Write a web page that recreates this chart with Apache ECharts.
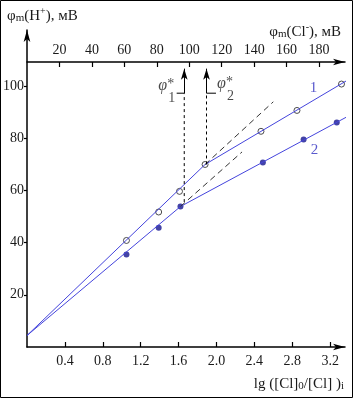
<!DOCTYPE html>
<html>
<head>
<meta charset="utf-8">
<script src="https://cdn.jsdelivr.net/npm/echarts@6/dist/echarts.min.js"></script>
<style>
  html, body { margin: 0; padding: 0; background: #fff; }
  #chart { width: 353px; height: 398px; }
</style>
</head>
<body>
<div id="chart"></div>
<script>
// values
let lgTicks = [0.4, 0.8, 1.2, 1.6, 2.0, 2.4, 2.8, 3.2]
let clTicks = [20, 40, 60, 80, 100, 120, 140, 160, 180]
let hTicks = [20, 40, 60, 80, 100]

// curve 1 (open circles), curve 2 (filled)
let open1 = [[1.05, 40.8], [1.39, 51.7], [1.61, 59.6], [1.88, 69.9], [2.47, 82.6], [2.85, 90.6], [3.32, 100.7]]
let filled2 = [[1.05, 35.4], [1.39, 45.7], [1.62, 53.8], [2.49, 70.7], [2.92, 79.5], [3.27, 86.0]]
let line1 = [[0, 4.4], [1.88, 69.9], [3.37, 101.9]]
let line2 = [[0, 4.4], [1.62, 53.8], [3.37, 88.0]]
// dashed extrapolations past the break
let ext1 = [[1.88, 69.9], [2.6, 93.9]]
let ext2 = [[1.62, 53.8], [2.27, 74.7]]
// phi* marks: x, y where the dashed drop starts; leader height, arrow end
let phi1 = [1.66, 55.5]
let phi2 = [1.895, 69.9]
let leaderY = 97.2
let arrowY = 106.6

let serif = 'Liberation Serif'
let blue = '#4444dc'
let ink = '#1a1a1a'

let chart = echarts.init(document.getElementById('chart'))

function axisLineStyle() {
  return {
    show: true,
    symbol: ['none', 'arrow'],
    symbolSize: [5, 12],
    lineStyle: { color: '#000', width: 1.5 }
  }
}

let nameRich = {
  a: { fontFamily: serif, fontWeight: 'normal', fontSize: 15, color: ink, lineHeight: 18, verticalAlign: 'bottom' },
  s: { fontFamily: serif, fontWeight: 'normal', fontSize: 11, color: ink, lineHeight: 18, padding: [6, 0, 0, 0], verticalAlign: 'bottom' },
  p: { fontFamily: serif, fontWeight: 'normal', fontSize: 10, color: ink, lineHeight: 18, padding: [0, 0, 8, 0], verticalAlign: 'bottom' }
}

let option = {
  animation: false,
  backgroundColor: '#fff',
  title: [
    { left: 2, top: 1, text: '{a|φ}{s|m}{a|(H}{p|+}{a|), мВ}', textStyle: { fontWeight: 'normal', rich: nameRich } },
    { right: 7, top: 17, text: '{a|φ}{s|m}{a|(Cl}{p|-}{a|), мВ}', textStyle: { fontWeight: 'normal', rich: nameRich } },
    { right: 4, bottom: 2, text: '{a|lg ([Cl]}{s|0}{a|/[Cl] )}{s|i}', textStyle: { fontWeight: 'normal', rich: nameRich } }
  ],
  grid: { left: 25, right: 8, top: 30, bottom: 51 },
  xAxis: [
    {
      type: 'value', position: 'bottom', min: 0, max: 3.357,
      axisLine: axisLineStyle(),
      axisTick: { inside: true, length: 5, customValues: lgTicks, lineStyle: { color: '#000', width: 1.2 } },
      axisLabel: { customValues: lgTicks, formatter: v => v.toFixed(1), fontFamily: serif, fontSize: 14, color: ink, margin: 7 },
      splitLine: { show: false }
    },
    {
      type: 'value', position: 'top', offset: -32, min: 0, max: 196,
      axisLine: axisLineStyle(),
      axisTick: { inside: true, length: 5, customValues: clTicks, lineStyle: { color: '#000', width: 1.2 } },
      axisLabel: { customValues: clTicks, fontFamily: serif, fontSize: 14, color: ink, margin: 5 },
      splitLine: { show: false }
    }
  ],
  yAxis: {
    type: 'value', min: 0, max: 121.4,
    axisLine: axisLineStyle(),
    axisTick: { length: 3, customValues: hTicks, lineStyle: { color: '#000', width: 1.2 } },
    axisLabel: { customValues: hTicks, fontFamily: serif, fontSize: 14, color: ink, margin: 3 },
    splitLine: { show: false }
  },
  graphic: [
    { type: 'rect', shape: { x: 0.5, y: 0.5, width: 352, height: 397 }, style: { fill: 'none', stroke: '#000', lineWidth: 1 } }
  ],
  series: [
    { type: 'line', data: line1, showSymbol: false, lineStyle: { color: blue, width: 1 } },
    { type: 'line', data: line2, showSymbol: false, lineStyle: { color: blue, width: 1 } },
    { type: 'line', data: ext1, showSymbol: false, lineStyle: { color: '#333', width: 1, type: [6, 4] } },
    { type: 'line', data: ext2, showSymbol: false, lineStyle: { color: '#333', width: 1, type: [6, 4] } },
    { type: 'line', data: [phi1, [phi1[0], leaderY]], showSymbol: false, lineStyle: { color: '#000', width: 1, type: [3, 3] } },
    { type: 'line', data: [phi2, [phi2[0], leaderY]], showSymbol: false, lineStyle: { color: '#000', width: 1, type: [3, 3] } },
    { type: 'line', data: [[phi1[0] - 0.08, leaderY], [phi1[0], leaderY]], showSymbol: false, lineStyle: { color: '#000', width: 1 } },
    {
      type: 'line', data: [[phi2[0] + 0.1, leaderY], [phi2[0], leaderY]], showSymbol: false, lineStyle: { color: '#000', width: 1 },
      markLine: {
        silent: true,
        symbol: ['none', 'arrow'],
        symbolSize: [5, 11],
        label: { show: false },
        lineStyle: { color: '#000', width: 1, type: 'solid' },
        data: [
          [{ coord: [phi1[0], leaderY] }, { coord: [phi1[0], arrowY] }],
          [{ coord: [phi2[0], leaderY] }, { coord: [phi2[0], arrowY] }]
        ]
      }
    },
    {
      type: 'scatter', data: open1, symbol: 'circle', symbolSize: 6,
      itemStyle: { color: '#fff', borderColor: '#222', borderWidth: 1 }
    },
    {
      type: 'scatter', data: filled2, symbol: 'circle', symbolSize: 6,
      itemStyle: { color: '#14148f' }
    },
    {
      type: 'scatter', symbolSize: 0,
      data: [[3.025, 99.0, '1'], [3.035, 75.6, '2']],
      label: { show: true, position: 'inside', formatter: p => p.data[2], fontFamily: serif, fontSize: 15, color: '#3030c0' }
    },
    {
      type: 'scatter', symbolSize: 0,
      data: [[1.47, 97.6, '1'], [2.09, 98.4, '2']],
      label: {
        show: true, position: 'inside',
        formatter: p => '{f|φ}{t|*}\n{n|' + p.data[2] + '}',
        rich: {
          f: { fontFamily: serif, fontStyle: 'italic', fontSize: 16, color: ink, lineHeight: 12 },
          t: { fontFamily: serif, fontSize: 14, color: ink, lineHeight: 12, padding: [0, 0, 4, 0] },
          n: { fontFamily: serif, fontSize: 14, color: ink, lineHeight: 12, padding: [0, 0, 0, 11] }
        }
      }
    }
  ]
}

chart.setOption(option)
</script>
</body>
</html>
